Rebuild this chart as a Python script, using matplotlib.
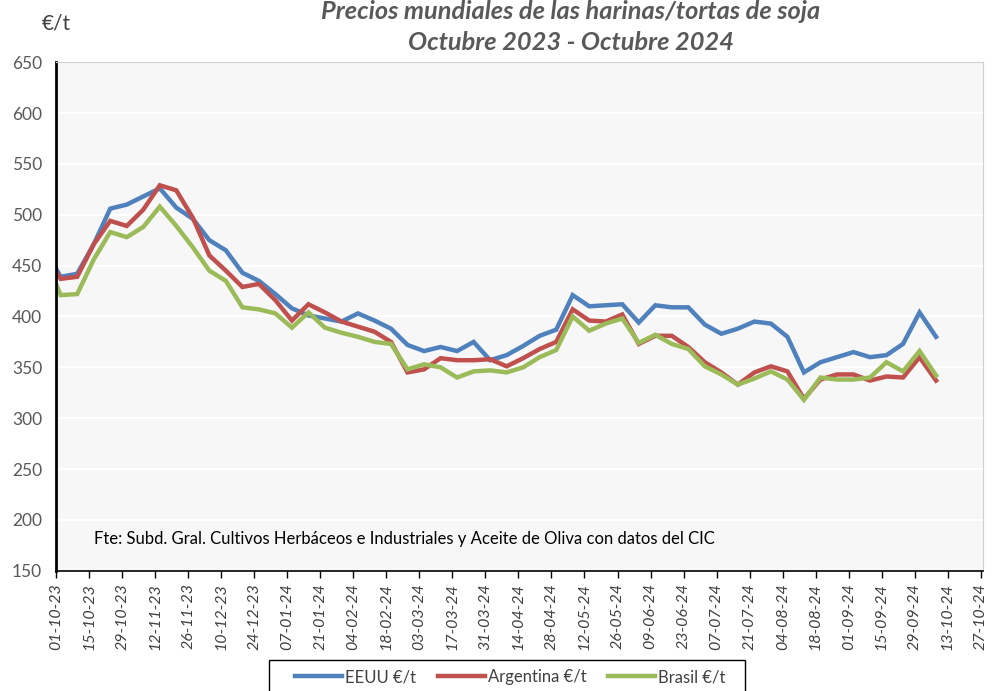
import numpy as np
import pandas as pd
import matplotlib
matplotlib.use("Agg")
import matplotlib.pyplot as plt
import matplotlib.dates as mdates
from matplotlib.patches import Rectangle

# ---------------------- data ----------------------

fechas = [pd.Timestamp("2023-10-01")] + list(pd.date_range("2023-10-03", periods=54, freq="7D"))

eeuu = [447, 439, 442, 471, 506, 510, 518, 526, 507, 496, 475, 465,
        443, 435, 422, 408, 401, 398, 395, 403, 396, 388, 372, 366,
        370, 366, 375, 357, 362, 371, 381, 387, 421, 410, 411, 412,
        394, 411, 409, 409, 392, 383, 388, 395, 393, 380, 345, 355,
        360, 365, 360, 362, 373, 404, 380]

argentina = [444, 437, 439, 471, 494, 489, 505, 529, 524, 497, 460, 445,
             429, 432, 416, 396, 412, 404, 395, 390, 385, 375, 345, 348,
             359, 357, 357, 358, 351, 359, 368, 375, 407, 396, 395, 402,
             373, 381, 381, 370, 355, 345, 333, 345, 351, 346, 319, 338,
             343, 343, 337, 341, 340, 360, 337]

brasil = [432, 421, 422, 456, 483, 478, 488, 508, 489, 468, 445, 435,
          409, 407, 403, 389, 404, 389, 384, 380, 375, 373, 348, 353,
          350, 340, 346, 347, 345, 350, 360, 367, 400, 386, 393, 398,
          374, 382, 373, 368, 351, 343, 333, 339, 346, 338, 318, 340,
          338, 338, 340, 355, 346, 366, 342]

series = ["EEUU €/t", "Argentina €/t", "Brasil €/t"]
colores = ["#4F81BD", "#C0504D", "#9BBB59"]

titulo = "Precios mundiales de las harinas/tortas de soja\nOctubre 2023 - Octubre 2024"
fuente = "Fte: Subd. Gral. Cultivos Herbáceos e Industriales y Aceite de Oliva con datos del CIC"

# ---------------------- plot ----------------------

plt.rcParams["font.family"] = ["Lato", "DejaVu Sans"]

fig = plt.figure(figsize=(9.96, 6.91), dpi=100)
ax = fig.add_axes([0.0562, 0.174, 0.931, 0.736])
ax.set_facecolor("#F7F7F7")

for nombre, valores, c in zip(series, [eeuu, argentina, brasil], colores):
    ax.plot(fechas, valores, color=c, lw=3.2, label=nombre, solid_joinstyle="miter")

ax.set_ylim(150, 650)
ax.set_yticks(np.arange(150, 651, 50))
ax.grid(axis="y", color="white", lw=1.5)
ax.set_axisbelow(True)

ax.set_xlim(pd.Timestamp("2023-10-01"), pd.Timestamp("2024-10-28"))
ticks = pd.date_range("2023-10-01", "2024-10-27", freq="14D")
ax.set_xticks(ticks)
ax.xaxis.set_major_formatter(mdates.DateFormatter("%d-%m-%y"))
for lab in ax.get_xticklabels():
    lab.set_rotation(90)
    lab.set_fontstyle("italic")
    lab.set_fontsize(11.5)
    lab.set_color("#404040")

ax.tick_params(axis="y", length=0, labelsize=12.5, labelcolor="#595959", pad=10)
ax.tick_params(axis="x", length=5, width=1, color="black", pad=4)

for s in ["top", "right"]:
    ax.spines[s].set_color("#D0D0D0")
    ax.spines[s].set_linewidth(0.8)
ax.spines["left"].set_color("black")
ax.spines["left"].set_linewidth(2)
ax.spines["bottom"].set_color("black")
ax.spines["bottom"].set_linewidth(1.2)

fig.text(0.573, 0.961, titulo, ha="center", va="center", fontsize=18.3,
         fontweight="bold", fontstyle="italic", color="#595959", linespacing=1.42)
fig.text(0.042, 0.966, "€/t", ha="left", va="center", fontsize=15, color="#404040")
ax.text(0.041, 0.063, fuente, transform=ax.transAxes, va="center",
        fontsize=12.0, color="black")

# legend: entries without frame, box drawn like the Excel one
leg = fig.legend(loc="center", bbox_to_anchor=(0.5126, 0.020), ncol=3,
                 fontsize=12, frameon=False,
                 handlelength=2.8, columnspacing=1.3, handletextpad=0.2,
                 borderpad=0.3, labelcolor="#404040")
fig.patches.append(Rectangle((0.270, -0.01), 0.478, 0.055, transform=fig.transFigure,
                             fill=False, edgecolor="black", lw=1.0))

fig.savefig("out.png", dpi=100)
